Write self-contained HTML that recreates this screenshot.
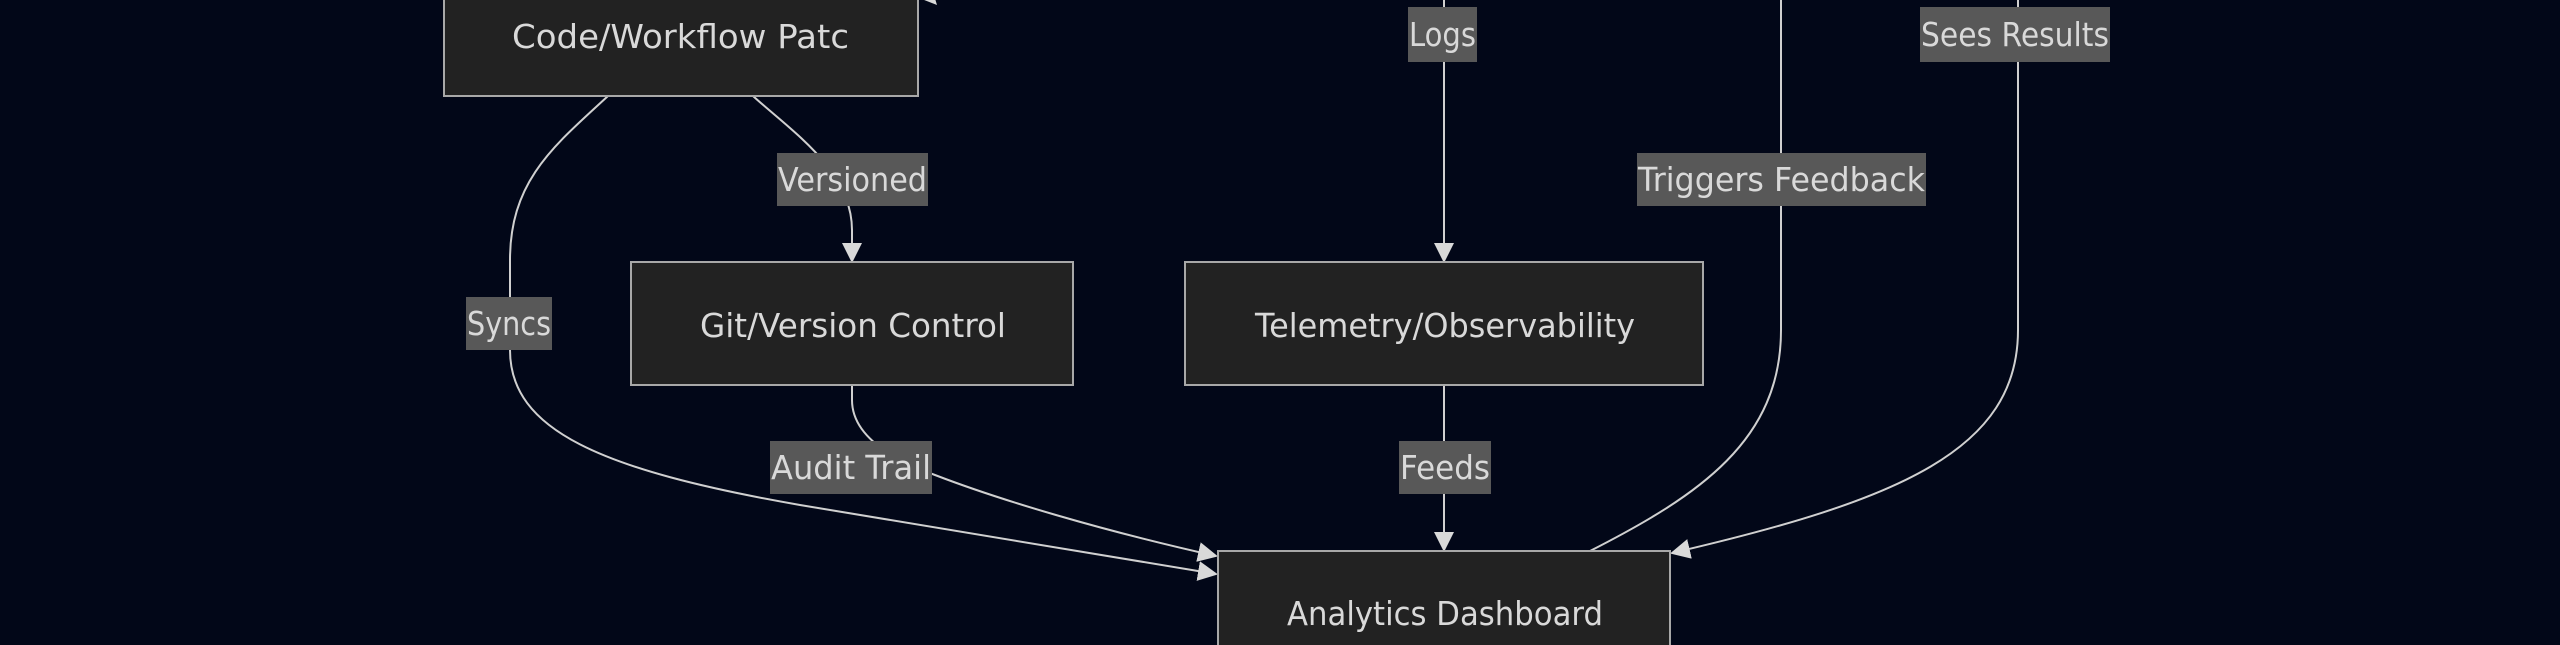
<!DOCTYPE html>
<html><head><meta charset="utf-8"><style>
html,body{margin:0;padding:0;background:#020718;}
svg{display:block;}
text{font-family:"DejaVu Sans","Liberation Sans",sans-serif;font-size:33px;fill:#d9d9d9;}
</style></head><body>
<svg width="2560" height="645" viewBox="0 0 2560 645" xmlns="http://www.w3.org/2000/svg">
<defs>
<marker id="a" viewBox="0 0 10 10" refX="9" refY="5" markerWidth="20" markerHeight="20" markerUnits="userSpaceOnUse" orient="auto">
<path d="M0,0 L10,5 L0,10 z" fill="#d9d9d9"/></marker>
</defs>
<rect width="2560" height="645" fill="#020718"/>
<g fill="none" stroke="#d0d0d0" stroke-width="2">
<path d="M608,96 C555,145 510,180 510,260 L510,350 C510,430 600,470 800,505 L1216,574" marker-end="url(#a)"/>
<path d="M852,385 L852,400 C852,430 880,455 935,475 C1000,500 1100,530 1216,556" marker-end="url(#a)"/>
<path d="M753,96 C790,130 852,170 852,230 L852,261" marker-end="url(#a)"/>
<path d="M1444,0 L1444,261" marker-end="url(#a)"/>
<path d="M1444,385 L1444,550" marker-end="url(#a)"/>
<path d="M1781,0 L1781,330 C1781,440 1700,495 1590,551"/>
<path d="M2018,0 L2018,330 C2018,450 1900,500 1672,553" marker-end="url(#a)"/>
</g>
<path d="M919,-2 L937,5 L933,-8 z" fill="#d9d9d9"/>
<g fill="#222222" stroke="#a8a8a8" stroke-width="2">
<rect x="444" y="-10" width="474" height="106"/>
<rect x="631" y="262" width="442" height="123"/>
<rect x="1185" y="262" width="518" height="123"/>
<rect x="1218" y="551" width="452" height="110"/>
</g>
<g fill="#585858">
<rect x="777" y="153" width="151" height="53"/>
<rect x="466" y="297" width="86" height="53"/>
<rect x="770" y="441" width="162" height="53"/>
<rect x="1408" y="7" width="69" height="55"/>
<rect x="1399" y="441" width="92" height="53"/>
<rect x="1637" y="153" width="289" height="53"/>
<rect x="1920" y="7" width="190" height="55"/>
</g>
<text x="512" y="48" textLength="337" lengthAdjust="spacingAndGlyphs">Code/Workflow Patc</text>
<text x="700" y="337" textLength="306" lengthAdjust="spacingAndGlyphs">Git/Version Control</text>
<text x="1255" y="337" textLength="380" lengthAdjust="spacingAndGlyphs">Telemetry/Observability</text>
<text x="1287" y="625" textLength="316" lengthAdjust="spacingAndGlyphs">Analytics Dashboard</text>
<text x="778" y="191" textLength="149" lengthAdjust="spacingAndGlyphs">Versioned</text>
<text x="467" y="335" textLength="84" lengthAdjust="spacingAndGlyphs">Syncs</text>
<text x="771" y="479" textLength="160" lengthAdjust="spacingAndGlyphs">Audit Trail</text>
<text x="1409" y="46" textLength="67" lengthAdjust="spacingAndGlyphs">Logs</text>
<text x="1400" y="479" textLength="90" lengthAdjust="spacingAndGlyphs">Feeds</text>
<text x="1638" y="191" textLength="287" lengthAdjust="spacingAndGlyphs">Triggers Feedback</text>
<text x="1921" y="46" textLength="188" lengthAdjust="spacingAndGlyphs">Sees Results</text>
</svg>
</body></html>
